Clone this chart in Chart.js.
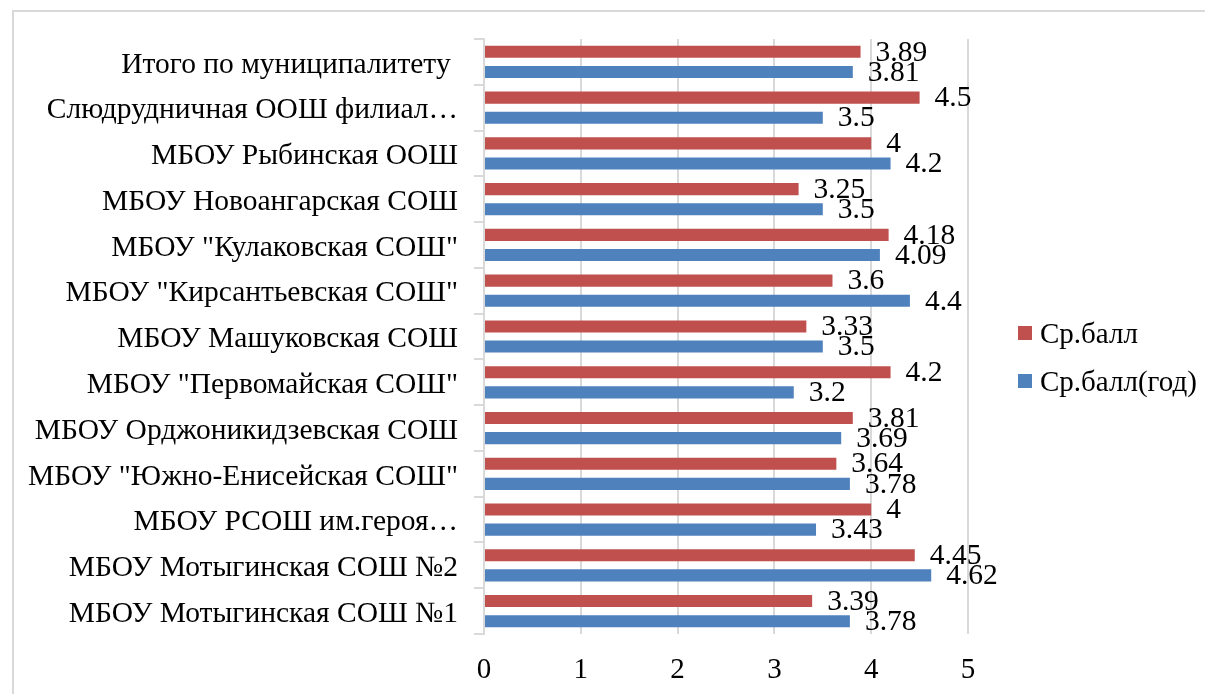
<!DOCTYPE html>
<html>
<head>
<meta charset="utf-8">
<script src="https://cdn.jsdelivr.net/npm/chart.js@4.4.1/dist/chart.umd.min.js"></script>
<style>
  html, body { margin: 0; padding: 0; background: #fff; overflow: hidden; }
  #frame { position: absolute; left: 12px; top: 10px; width: 1300px; height: 800px; border: 2px solid #d9d9d9; pointer-events: none; }
  canvas { position: absolute; left: 0; top: 0; }
</style>
</head>
<body>
<canvas id="chart" width="1205" height="694"></canvas>
<div id="frame"></div>
<script>
const schools = [
  'Итого по муниципалитету ',
  'Слюдрудничная ООШ филиал…',
  'МБОУ Рыбинская ООШ',
  'МБОУ Новоангарская СОШ',
  'МБОУ "Кулаковская СОШ"',
  'МБОУ "Кирсантьевская СОШ"',
  'МБОУ Машуковская СОШ',
  'МБОУ "Первомайская СОШ"',
  'МБОУ Орджоникидзевская СОШ',
  'МБОУ "Южно-Енисейская СОШ"',
  'МБОУ РСОШ им.героя…',
  'МБОУ Мотыгинская СОШ №2',
  'МБОУ Мотыгинская СОШ №1'
];
const avgScore = [3.89, 4.5, 4, 3.25, 4.18, 3.6, 3.33, 4.2, 3.81, 3.64, 4, 4.45, 3.39];
const avgScoreYear = [3.81, 3.5, 4.2, 3.5, 4.09, 4.4, 3.5, 3.2, 3.69, 3.78, 3.43, 4.62, 3.78];
const seriesNames = ['Ср.балл', 'Ср.балл(год)'];
const xTicks = [0, 1, 2, 3, 4, 5];

const FONT = 'Liberation Serif, Times New Roman, serif';

// value labels at the end of each bar
const barLabels = {
  id: 'barLabels',
  afterDatasetsDraw(chart) {
    const ctx = chart.ctx;
    ctx.save();
    ctx.font = '29.5px ' + FONT;
    ctx.fillStyle = '#000';
    ctx.textAlign = 'left';
    ctx.textBaseline = 'middle';
    chart.data.datasets.forEach((ds, i) => {
      chart.getDatasetMeta(i).data.forEach((bar, j) => {
        ctx.fillText(String(ds.data[j]), bar.x + 15, bar.y + 1);
      });
    });
    ctx.restore();
  }
};

// legend on the right, drawn by hand so it sits where the reference has it
const sideLegend = {
  id: 'sideLegend',
  afterDraw(chart) {
    const ctx = chart.ctx;
    ctx.save();
    ctx.font = '29px ' + FONT;
    ctx.textBaseline = 'middle';
    chart.data.datasets.forEach((ds, i) => {
      const y = 333 + i * 48;
      ctx.fillStyle = ds.backgroundColor;
      ctx.fillRect(1018, y - 7, 14, 14);
      ctx.fillStyle = '#000';
      ctx.fillText(ds.label, 1040, y + 2);
    });
    ctx.restore();
  }
};

new Chart(document.getElementById('chart'), {
  type: 'bar',
  data: {
    labels: schools,
    datasets: [
      { label: seriesNames[0], data: avgScore, backgroundColor: '#C0504D' },
      { label: seriesNames[1], data: avgScoreYear, backgroundColor: '#4F81BD' }
    ]
  },
  options: {
    indexAxis: 'y',
    responsive: false,
    animation: false,
    events: [],
    categoryPercentage: 0.88,
    barPercentage: 0.6,
    layout: { padding: { left: 14, top: 39, right: 237, bottom: 0 } },
    plugins: {
      legend: { display: false },
      tooltip: { enabled: false }
    },
    scales: {
      x: {
        min: 0,
        max: 5,
        afterBuildTicks(scale) {
          scale.ticks = xTicks.map(v => ({ value: v }));
        },
        afterFit(scale) { scale.height = 60; },
        grid: { color: '#d9d9d9', lineWidth: 2, drawTicks: false },
        border: { display: false },
        ticks: { color: '#000', padding: 19, font: { family: FONT, size: 29 } }
      },
      y: {
        afterFit(scale) { scale.width = 470; },
        grid: { offset: true, drawOnChartArea: false, color: '#d9d9d9', lineWidth: 2, tickLength: 10 },
        border: { color: '#d9d9d9', width: 2 },
        ticks: { color: '#000', padding: 16, labelOffset: 3, font: { family: FONT, size: 29.5 } }
      }
    }
  },
  plugins: [barLabels, sideLegend]
});
</script>
</body>
</html>
